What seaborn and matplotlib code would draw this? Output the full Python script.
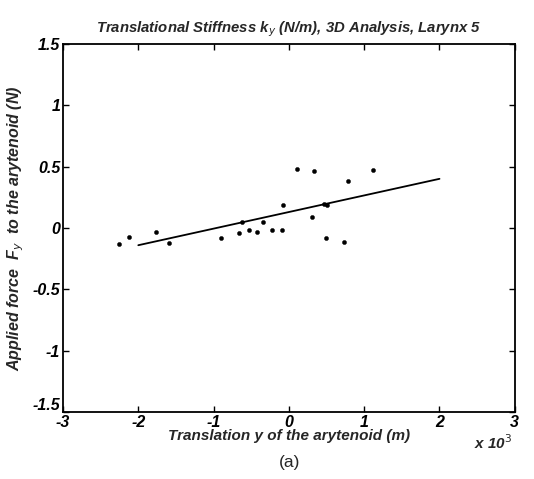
import matplotlib
matplotlib.use("Agg")
import matplotlib.pyplot as plt
import numpy as np
import pandas as pd
import seaborn as sns

# Measured translation (x 10^-3 m) and applied force (N)
translation = [-2.26, -2.12, -1.77, -1.59, -0.90, -0.66, -0.62, -0.53, -0.42, -0.35,
               -0.22, -0.09, -0.08, 0.11, 0.31, 0.33, 0.46, 0.50, 0.49, 0.73, 0.78, 1.12]
force = [-0.13, -0.07, -0.035, -0.12, -0.08, -0.04, 0.05, -0.02, -0.035, 0.05,
         -0.02, -0.02, 0.19, 0.48, 0.09, 0.46, 0.195, 0.19, -0.08, -0.11, 0.38, 0.47]

# Linear stiffness fit
fit_range = [-2.0, 2.0]
fit_slope = 0.135
fit_intercept = 0.13

x_ticks = [-3, -2, -1, 0, 1, 2, 3]
y_ticks = [-1.5, -1, -0.5, 0, 0.5, 1, 1.5]
y_tick_labels = ["-1.5", "-1", "-0.5", "0", "0.5", "1", "1.5"]

sns.set_theme(style="white")
plt.rcParams["font.family"] = ["Liberation Sans", "DejaVu Sans"]

fig = plt.figure(figsize=(5.34, 4.79), dpi=100)
ax = fig.add_axes([0.118, 0.139, 0.846, 0.770])

pts = pd.DataFrame({"y": translation, "F": force})
sns.scatterplot(data=pts, x="y", y="F", ax=ax, color="black", s=9,
                edgecolor="black", linewidth=0.3, zorder=3)

fit = pd.DataFrame({"y": fit_range,
                    "F": [fit_intercept + fit_slope * v for v in fit_range]})
sns.lineplot(data=fit, x="y", y="F", ax=ax, color="black", linewidth=1.3)

ax.set_xlim(-3, 3)
ax.set_ylim(-1.5, 1.5)
ax.set_xticks(x_ticks)
ax.set_yticks(y_ticks)
ax.set_xticklabels([str(t) for t in x_ticks])
# the lowest y label is placed separately, lifted clear of the "-3"
ax.set_yticklabels([""] + y_tick_labels[1:])

tick_font = dict(fontsize=11.5, fontweight="bold", fontstyle="italic")
for lab in ax.get_xticklabels() + ax.get_yticklabels():
    lab.set_fontsize(11.5)
    lab.set_fontweight("bold")
    lab.set_fontstyle("italic")

ax.annotate(y_tick_labels[0], xy=(0, y_ticks[0]),
            xycoords=("axes fraction", "data"),
            xytext=(-2, 5), textcoords="offset points",
            ha="right", va="center", color="black", **tick_font)

ax.tick_params(direction="in", length=4, width=1, color="black",
               top=True, right=True, bottom=True, left=True, pad=2,
               labelcolor="black")
for side in ax.spines.values():
    side.set_color("black")
    side.set_linewidth(1.3)

ax.set_xlabel("Translation y of the arytenoid (m)", fontsize=11,
              fontweight="bold", fontstyle="italic", labelpad=-1)
ax.set_ylabel("Applied force  F$_\\mathit{y}$  to the arytenoid (N)", fontsize=11.5,
              fontweight="bold", fontstyle="italic", labelpad=5)
ax.set_title("Translational Stiffness k$_\\mathit{y}$ (N/m), 3D Analysis, Larynx 5",
             fontsize=10.7, fontweight="bold", fontstyle="italic", pad=8)

fig.text(0.888, 0.075, "x 10$^{3}$", fontsize=11, fontweight="bold",
         fontstyle="italic", ha="left", va="center")
fig.text(0.543, 0.035, "(a)", fontsize=12.5, ha="center", va="center")

fig.savefig("out.png", dpi=100, facecolor="white")
